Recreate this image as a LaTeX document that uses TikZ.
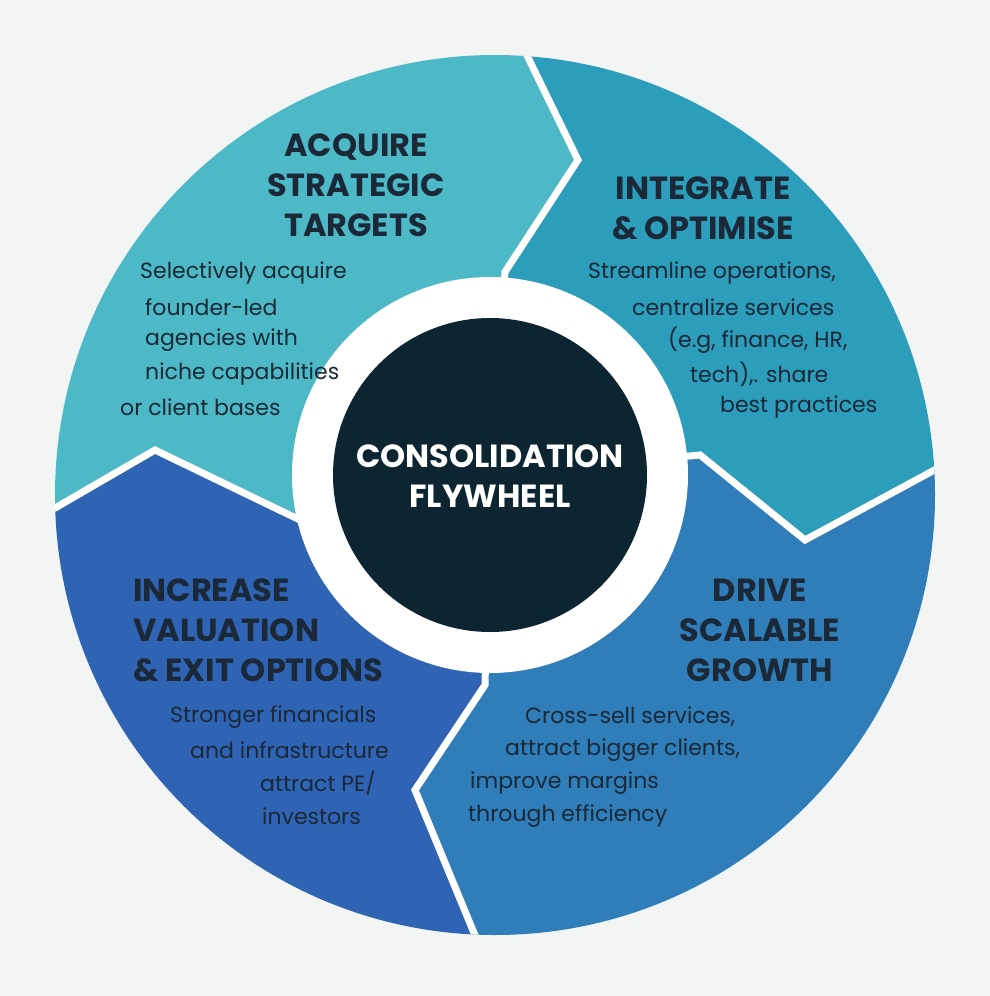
\documentclass[tikz,border=0pt]{standalone}
\usepackage{fontspec}
\setmainfont{Poppins}
\definecolor{bg}{HTML}{F3F4F4}
\definecolor{ctl}{HTML}{4DB9C6}
\definecolor{ctr}{HTML}{2C9DBA}
\definecolor{cbr}{HTML}{2F7EB9}
\definecolor{cbl}{HTML}{2F63B4}
\definecolor{dark}{HTML}{0C2530}
\definecolor{txt}{HTML}{1A2838}
\begin{document}
\begin{tikzpicture}[x=1pt,y=-1pt,
  head/.style={font=\fontsize{32}{36}\selectfont\bfseries,text=txt,inner sep=0},
  body/.style={font=\fontsize{22}{26}\selectfont,text=txt,inner sep=0,anchor=west},
  gap/.style={draw=white,line width=7pt,line join=miter}]
\fill[bg] (0,0) rectangle (990,996);
\useasboundingbox (0,0) rectangle (990,996);
\coordinate (c) at (490,475);
\begin{scope}
\clip (495,495) circle (440);
\fill[ctl] (0,0)--(500,0)--(578,160)--(505,272)--(c)--(300,520)--(155,450)--(0,540)--cycle;
\fill[ctr] (500,0)--(990,0)--(990,440)--(805,540)--(700,455)--(c)--(505,272)--(578,160)--cycle;
\fill[cbr] (990,440)--(990,996)--(500,996)--(415,790)--(485,685)--(c)--(700,455)--(805,540)--cycle;
\fill[cbl] (0,540)--(155,450)--(300,520)--(c)--(485,685)--(415,790)--(500,996)--(0,996)--cycle;
\draw[gap] (500,0)--(578,160)--(505,272)--(c);
\draw[gap] (990,440)--(805,540)--(700,455)--(c);
\draw[gap] (500,996)--(415,790)--(485,685)--(c);
\draw[gap] (0,540)--(155,450)--(300,520)--(c);
\end{scope}
\fill[white] (c) circle (198);
\node[circle,fill=dark,minimum size=314pt,inner sep=0] (hub) at (c) {};
\node[head,text=white,align=center] (ht) at (490,476) {CONSOLIDATION\\[4pt]FLYWHEEL};
\node[head,align=center] (h1) at (356,185) {ACQUIRE\\[4pt]STRATEGIC\\[4pt]TARGETS};
\node[head,align=center] (h2) at (703,208) {INTEGRATE\\[4pt]\& OPTIMISE};
\node[head,align=center] (h3) at (760,630) {DRIVE\\[4pt]SCALABLE\\[4pt]GROWTH};
\node[head,align=left,anchor=west] (h4) at (133,630) {INCREASE\\[4pt]VALUATION\\[4pt]\& EXIT OPTIONS};
\node[body] (a1) at (140,273) {Selectively acquire};
\node[body] (a2) at (145,307) {founder-led};
\node[body] (a3) at (145,340) {agencies with};
\node[body] (a4) at (145,374) {niche capabilities};
\node[body] (a5) at (120,407) {or client bases};
\node[body] (b1) at (588,273) {Streamline operations,};
\node[body] (b2) at (632,307) {centralize services};
\node[body] (b3) at (668,340) {(e.g, finance, HR,};
\node[body] (b4) at (690,374) {tech),. share};
\node[body] (b5) at (720,407) {best practices};
\node[body] (d1) at (525,717) {Cross-sell services,};
\node[body] (d2) at (505,750) {attract bigger clients,};
\node[body] (d3) at (470,783) {improve margins};
\node[body] (d4) at (468,816) {through efficiency};
\node[body] (e1) at (170,717) {Stronger financials};
\node[body] (e2) at (190,750) {and infrastructure};
\node[body] (e3) at (260,783) {attract PE/};
\node[body] (e4) at (262,816) {investors};
\end{tikzpicture}
\end{document}
